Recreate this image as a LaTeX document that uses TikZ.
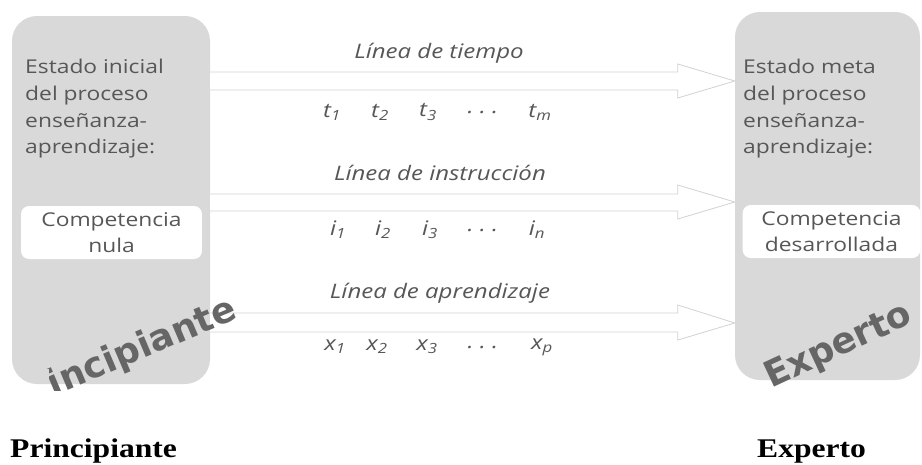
\documentclass[tikz,border=0pt]{standalone}
\usepackage{fontspec}
\usepackage{tikz}
\usetikzlibrary{positioning}
\setmainfont{Liberation Serif}
\newfontfamily\textofont{Open Sans}
\newfontfamily\marcafont{DejaVu Sans}
\definecolor{fondo}{HTML}{D9D9D9}
\definecolor{borde}{HTML}{D2D2D2}
\definecolor{letra}{HTML}{575757}
\definecolor{sombra}{HTML}{666666}

\tikzset{
  caja/.style={fill=fondo,rounded corners=25pt,inner sep=0pt},
  blanco/.style={fill=white,rounded corners=8pt,inner sep=0pt,xscale=1.2,text=letra,align=center,font=\textofont\fontsize{19}{26.5}\selectfont},
  texto/.style={xscale=1.2,text=letra,align=left,inner sep=0pt,font=\textofont\fontsize{19}{26.7}\selectfont},
  etiq/.style={xscale=1.2,text=letra,inner sep=0pt,font=\textofont\itshape\fontsize{20}{22}\selectfont},
  flecha/.style={draw=borde,fill=white,line width=0.8pt},
  marca/.style={text=sombra,inner sep=0pt,font=\marcafont\bfseries\fontsize{36}{36}\selectfont},
  titulo/.style={xscale=1.17,inner sep=0pt,font=\bfseries\fontsize{27}{30}\selectfont}
}

\begin{document}
\begin{tikzpicture}[x=1pt,y=-1pt]
\useasboundingbox (0,0) rectangle (922,464);

\node[caja,minimum width=198pt,minimum height=368pt] (ini) at (111,200) {};
\node[caja,minimum width=185pt,minimum height=368pt] (meta) at (827.5,196) {};
\coordinate (cab) at ([xshift=-57pt]meta.west);

\filldraw[flecha] (ini.east |- 0,72) -- (cab |- 0,72) -- (cab |- 0,64) -- (meta.west |- 0,81) -- (cab |- 0,98) -- (cab |- 0,90) -- (ini.east |- 0,90);
\filldraw[flecha] (ini.east |- 0,194) -- (cab |- 0,194) -- (cab |- 0,185) -- (meta.west |- 0,202) -- (cab |- 0,219) -- (cab |- 0,211) -- (ini.east |- 0,211);
\filldraw[flecha] (ini.east |- 0,313) -- (cab |- 0,313) -- (cab |- 0,305) -- (meta.west |- 0,323) -- (cab |- 0,340) -- (cab |- 0,332) -- (ini.east |- 0,332);

\node[texto,anchor=west] (tini) at (25,109) {Estado inicial\\del proceso\\enseñanza-\\aprendizaje:};
\node[texto,anchor=west] (tmeta) at (743,109) {Estado meta\\del proceso\\enseñanza-\\aprendizaje:};
\node[blanco,minimum width=150.8pt,minimum height=53pt] (cnula) at (111.5,232.5) {Competencia\\nula};
\node[blanco,minimum width=148pt,minimum height=53pt] (cdes) at (831.5,231.5) {Competencia\\desarrollada};

\node[etiq] (ltiempo) at (439,53) {Línea de tiempo};
\node[etiq] (t1) at (332,112) {t\textsubscript{1}};
\node[etiq] (t2) at (380,112) {t\textsubscript{2}};
\node[etiq] (t3) at (428,112) {t\textsubscript{3}};
\node[etiq] (tdots) at (483,112) {.~.~.};
\node[etiq] (tm) at (540,112) {t\textsubscript{m}};

\node[etiq] (linst) at (440,173) {Línea de instrucción};
\node[etiq] (i1) at (338,230) {i\textsubscript{1}};
\node[etiq] (i2) at (383,230) {i\textsubscript{2}};
\node[etiq] (i3) at (430,230) {i\textsubscript{3}};
\node[etiq] (idots) at (483,230) {.~.~.};
\node[etiq] (iN) at (537,230) {i\textsubscript{n}};

\node[etiq] (lapr) at (440,293) {Línea de aprendizaje};
\node[etiq] (x1) at (335,347) {x\textsubscript{1}};
\node[etiq] (x2) at (377,347) {x\textsubscript{2}};
\node[etiq] (x3) at (427,347) {x\textsubscript{3}};
\node[etiq] (xdots) at (483,347) {.~.~.};
\node[etiq] (xp) at (542,347) {x\textsubscript{p}};

\begin{scope}
\clip (8,0) -- (922,0) -- (922,390) -- (49,390) -- (49,368) -- (8,368) -- cycle;
\node[marca,rotate=23,anchor=base west] (wprin) at (13,414) {Principiante};
\node[marca,rotate=25,anchor=base west] (wexp) at (771,389) {Experto};
\end{scope}

\node[titulo,anchor=base west] (lprin) at (10,457) {Principiante};
\node[titulo,anchor=base west] (lexp) at (757,457) {Experto};
\end{tikzpicture}
\end{document}
